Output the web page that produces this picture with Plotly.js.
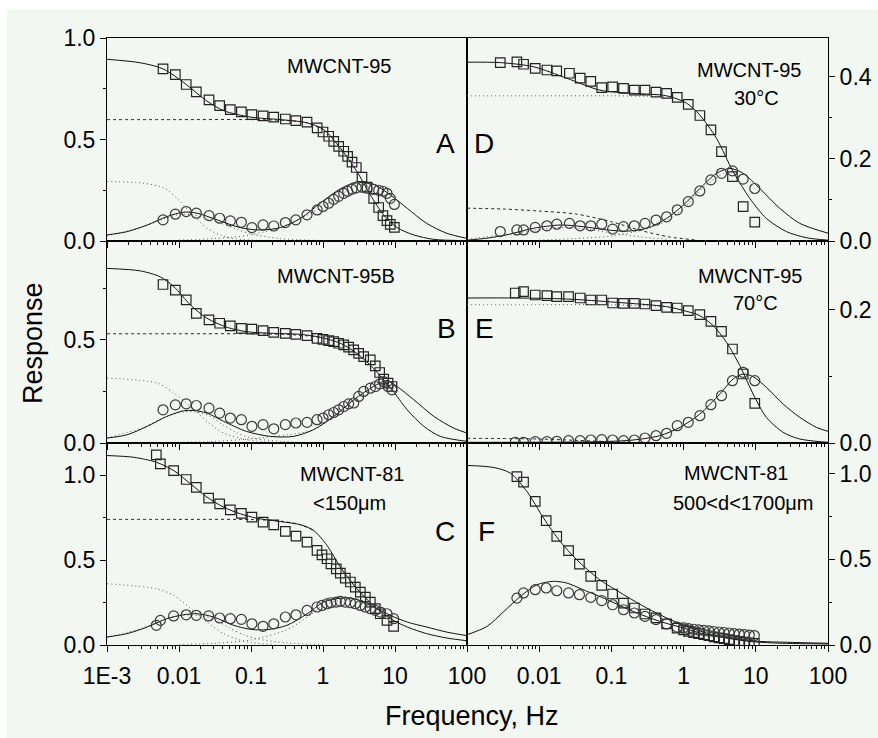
<!DOCTYPE html>
<html><head><meta charset="utf-8">
<script src="https://cdn.plot.ly/plotly-3.0.1.min.js"></script>
<style>html,body{margin:0;padding:0;background:#fff}#chart{width:878px;height:738px}</style>
</head><body><div id="chart"></div>
<script>
// ---------------- DATA (frequency in Hz) ----------------
// Panel A  MWCNT-95
const fA = [0.006,0.0089,0.0126,0.0174,0.0261,0.0367,0.0516,0.0735,0.103,0.147,0.207,0.30,0.42,0.60,0.83,1.0,1.2,1.41,1.65,1.94,2.2,2.53,2.9,3.48,4.08,5.06,5.93,6.8,7.74,8.6,9.8];
const reA = [0.848,0.820,0.771,0.735,0.695,0.667,0.647,0.636,0.623,0.616,0.610,0.601,0.593,0.586,0.557,0.537,0.516,0.491,0.466,0.442,0.417,0.389,0.362,0.315,0.265,0.21,0.165,0.125,0.1,0.082,0.067];
const imA = [0.104,0.132,0.145,0.137,0.125,0.112,0.099,0.092,0.066,0.079,0.074,0.091,0.104,0.129,0.153,0.170,0.186,0.205,0.220,0.235,0.245,0.255,0.262,0.265,0.26,0.255,0.25,0.245,0.235,0.21,0.18];
const fitReA_f = [0.001,0.0029,0.006,0.0126,0.0245,0.0417,0.1,0.257,0.603,1.02,1.74,2.95,4.54,6.97,10.7,18.2,34.7,100];
const fitReA = [0.895,0.878,0.848,0.771,0.689,0.642,0.610,0.598,0.582,0.549,0.458,0.343,0.227,0.128,0.066,0.03,0.008,0.002];
const fitImA_f = [0.001,0.0019,0.00363,0.00676,0.0115,0.0178,0.0339,0.0708,0.135,0.257,0.49,0.912,1.74,3.13,5.01,8.61,14.8,27.5,52.5,100];
const fitImA = [0.03,0.046,0.079,0.12,0.142,0.137,0.104,0.066,0.054,0.066,0.112,0.186,0.257,0.293,0.28,0.227,0.161,0.087,0.038,0.013];
const hfReA_f = [0.001,0.01,0.1,0.3,0.603,1.02];
const hfReA = [0.598,0.598,0.598,0.594,0.582,0.549];
const lfReA_f = [0.001,0.00316,0.0063,0.01,0.0158,0.0251,0.0398,0.0631,0.158];
const lfReA = [0.293,0.285,0.26,0.2,0.125,0.06,0.025,0.01,0.002];
const hfImA_f = [0.01,0.0316,0.1,0.316,1,2,3.16];
const hfImA = [0.005,0.012,0.03,0.08,0.17,0.24,0.285];
const lfImA_f = [0.001,0.00316,0.0063,0.01,0.0158,0.0251,0.0398,0.0631,0.1,0.251,1];
const lfImA = [0.025,0.07,0.11,0.13,0.128,0.11,0.085,0.058,0.035,0.012,0.002];

// Panel B  MWCNT-95B
const fB = [0.006,0.0089,0.0126,0.0174,0.0261,0.0367,0.0516,0.0735,0.103,0.147,0.207,0.30,0.42,0.60,0.826,1.0,1.2,1.41,1.65,1.94,2.27,2.67,3.13,3.67,4.54,5.33,6.12,6.97,8.0,9.08];
const reB = [0.769,0.742,0.694,0.629,0.597,0.581,0.568,0.556,0.552,0.545,0.537,0.532,0.527,0.521,0.508,0.503,0.497,0.492,0.484,0.476,0.465,0.452,0.435,0.419,0.403,0.374,0.342,0.31,0.29,0.274];
const imB = [0.161,0.185,0.19,0.182,0.169,0.145,0.121,0.113,0.081,0.089,0.069,0.089,0.097,0.1,0.113,0.121,0.137,0.148,0.161,0.177,0.19,0.194,0.226,0.25,0.266,0.274,0.287,0.298,0.274,0.258];
const fitReB_f = [0.001,0.0029,0.0055,0.0085,0.0145,0.0245,0.0468,0.0871,0.204,0.49,0.912,1.74,2.95,5.01,6.92,9.12,14.8,25.1,42.7,100];
const fitReB = [0.847,0.835,0.806,0.758,0.669,0.605,0.561,0.54,0.532,0.527,0.513,0.484,0.435,0.363,0.306,0.258,0.161,0.081,0.032,0.008];
const fitImB_f = [0.001,0.0019,0.00363,0.00676,0.0115,0.0158,0.0245,0.0417,0.0871,0.186,0.389,0.741,1.41,2.69,5.01,7.76,10.7,18.2,34.7,64.6,100];
const fitImB = [0.024,0.04,0.081,0.129,0.156,0.158,0.145,0.105,0.056,0.032,0.032,0.065,0.129,0.21,0.274,0.303,0.274,0.21,0.129,0.073,0.048];
const hfReB_f = [0.001,0.01,0.1,0.3,0.6,0.912];
const hfReB = [0.53,0.53,0.53,0.527,0.52,0.513];
const lfReB_f = [0.001,0.005,0.0085,0.0145,0.0245,0.0417,0.0871,0.204];
const lfReB = [0.315,0.29,0.242,0.177,0.105,0.048,0.016,0.003];
const hfImB_f = [0.01,0.0316,0.1,0.316,0.741,1.41];
const hfImB = [0.003,0.008,0.02,0.04,0.063,0.128];
const lfImB_f = [0.001,0.00316,0.0063,0.0112,0.0158,0.0251,0.0398,0.0631,0.1,0.251,0.631];
const lfImB = [0.024,0.075,0.125,0.15,0.152,0.135,0.09,0.05,0.025,0.008,0.002];

// Panel C  MWCNT-81 <150um
const fC = [0.00484,0.00551,0.00843,0.0126,0.0174,0.0258,0.0367,0.0516,0.0735,0.103,0.147,0.207,0.3,0.422,0.6,0.826,0.968,1.14,1.29,1.53,1.74,2.04,2.4,2.81,3.3,3.87,4.54,5.33,6.25,7.74,9.57];
const reC = [1.12,1.067,1.027,0.975,0.929,0.865,0.831,0.796,0.776,0.753,0.724,0.708,0.669,0.641,0.606,0.557,0.531,0.508,0.478,0.449,0.424,0.394,0.371,0.341,0.312,0.282,0.253,0.214,0.184,0.145,0.11];
const imC = [0.116,0.145,0.171,0.178,0.175,0.171,0.159,0.155,0.151,0.125,0.11,0.125,0.165,0.178,0.204,0.224,0.233,0.243,0.249,0.253,0.257,0.253,0.249,0.243,0.233,0.224,0.214,0.204,0.194,0.184,0.155];
const fitReC_f = [0.001,0.00234,0.0049,0.0085,0.0145,0.0245,0.0417,0.0708,0.12,0.257,0.49,0.741,1.14,1.74,2.95,5.01,8.61,14.8,27.5,52.5,100];
const fitReC = [1.116,1.106,1.076,1.027,0.949,0.871,0.812,0.773,0.747,0.727,0.708,0.675,0.586,0.459,0.331,0.233,0.155,0.106,0.067,0.041,0.025];
const fitImC_f = [0.001,0.0019,0.00363,0.00676,0.0115,0.0178,0.0302,0.0575,0.1,0.166,0.316,0.603,1.02,1.74,2.69,4.57,8.61,14.8,27.5,52.5,100];
const fitImC = [0.047,0.067,0.106,0.155,0.178,0.184,0.165,0.116,0.092,0.09,0.116,0.184,0.253,0.276,0.273,0.233,0.175,0.135,0.106,0.076,0.055];
const hfReC_f = [0.001,0.01,0.1,0.257,0.49,0.741];
const hfReC = [0.74,0.74,0.739,0.73,0.708,0.675];
const lfReC_f = [0.001,0.0049,0.0085,0.0145,0.0245,0.0417,0.0871,0.204];
const lfReC = [0.361,0.331,0.292,0.214,0.135,0.067,0.018,0.004];
const hfImC_f = [0.01,0.0316,0.1,0.316,0.631,1.02,1.74];
const hfImC = [0.003,0.01,0.03,0.09,0.17,0.235,0.265];
const lfImC_f = [0.001,0.00316,0.0063,0.0112,0.0178,0.0316,0.05,0.0794,0.126,0.316,1];
const lfImC = [0.045,0.1,0.15,0.175,0.175,0.15,0.1,0.06,0.035,0.012,0.003];

// Panel D  MWCNT-95 30°C
const fD = [0.00289,0.00491,0.00607,0.00881,0.0128,0.0175,0.0262,0.0369,0.0518,0.0735,0.104,0.147,0.208,0.292,0.415,0.582,0.817,1.16,1.68,2.39,3.35,4.75,6.68,9.68];
const reD = [0.435,0.437,0.431,0.421,0.417,0.415,0.409,0.397,0.389,0.374,0.376,0.372,0.368,0.368,0.363,0.360,0.350,0.333,0.306,0.271,0.218,0.157,0.084,0.046];
const imD = [0.023,0.027,0.027,0.033,0.037,0.041,0.043,0.037,0.037,0.041,0.029,0.035,0.037,0.043,0.051,0.059,0.076,0.096,0.122,0.149,0.165,0.171,0.151,0.128];
const fitReD_f = [0.001,0.00289,0.0083,0.024,0.069,0.2,0.582,1.1,1.68,2.86,4.86,8.26,14.0,26.5,50.1,100];
const fitReD = [0.436,0.435,0.425,0.397,0.368,0.36,0.354,0.336,0.307,0.25,0.169,0.104,0.055,0.023,0.008,0.002];
const fitImD_f = [0.001,0.0019,0.00355,0.0083,0.0195,0.0407,0.0871,0.162,0.309,0.582,1.0,1.68,2.86,4.37,6.68,11.35,21.4,40.7,100];
const fitImD = [0.002,0.007,0.015,0.031,0.039,0.035,0.027,0.024,0.031,0.055,0.088,0.128,0.165,0.177,0.165,0.128,0.08,0.043,0.019];
const hfReD_f = [0.001,0.01,0.1,0.3,0.582];
const hfReD = [0.354,0.354,0.354,0.353,0.352];
const lfReD_f = [0.001,0.00316,0.01,0.0316,0.1,0.251,0.631,1.58];
const lfReD = [0.08,0.078,0.073,0.066,0.047,0.026,0.01,0.002];
const hfImD_f = [0.01,0.0316,0.1,0.316,0.631,1.0,2.0,4.37];
const hfImD = [0.002,0.006,0.012,0.03,0.052,0.08,0.135,0.175];
const lfImD_f = [0.001,0.00316,0.01,0.02,0.04,0.1,0.251,0.631];
const lfImD = [0.005,0.015,0.028,0.033,0.03,0.02,0.01,0.004];

// Panel E  MWCNT-95 70°C
const fE = [0.00466,0.00607,0.00881,0.0128,0.0175,0.0255,0.0369,0.0518,0.0735,0.104,0.147,0.208,0.292,0.415,0.582,0.817,1.16,1.68,2.39,3.35,4.75,6.68,9.68];
const reE = [0.225,0.227,0.222,0.221,0.2195,0.2195,0.2175,0.2145,0.2145,0.21,0.2095,0.2095,0.2085,0.206,0.2035,0.2025,0.1985,0.1925,0.1825,0.1675,0.141,0.1035,0.0595];
const imE = [0.001,0.001,0.002,0.002,0.0025,0.0035,0.0035,0.0045,0.005,0.0045,0.0035,0.0045,0.0075,0.011,0.0145,0.026,0.031,0.041,0.0575,0.071,0.0935,0.106,0.0935];
const fitReE_f = [0.001,0.00466,0.024,0.117,0.582,1.1,1.68,2.57,3.93,6.01,9.18,14.0,23.9,40.6,100];
const fitReE = [0.2175,0.2175,0.216,0.211,0.2045,0.1975,0.191,0.176,0.151,0.116,0.0735,0.0385,0.016,0.006,0.001];
const fitImE_f = [0.001,0.0692,0.2,0.468,0.891,1.68,3.18,4.86,6.68,9.18,14.0,23.9,40.6,69.0,100];
const fitImE = [0.001,0.002,0.0045,0.011,0.0235,0.0435,0.0735,0.096,0.1035,0.0995,0.0835,0.0585,0.0385,0.0235,0.0175];
const hfReE_f = [0.001,0.01,0.1,0.3,0.582];
const hfReE = [0.2075,0.2075,0.2073,0.206,0.2045];
const lfReE_f = [0.001,0.01,0.0316,0.1,0.316];
const lfReE = [0.007,0.006,0.004,0.002,0.0];

// Panel F  MWCNT-81 500<d<1700um
const fF = [0.00491,0.00607,0.00881,0.0125,0.0175,0.0255,0.0361,0.0518,0.0735,0.104,0.147,0.208,0.292,0.415,0.582,0.813,1.0,1.17,1.38,1.62,1.91,2.24,2.63,3.09,3.63,4.27,5.01,5.89,6.92,8.13,9.55];
const reF = [0.984,0.951,0.839,0.726,0.634,0.551,0.473,0.401,0.348,0.298,0.245,0.216,0.181,0.158,0.123,0.099,0.088,0.08,0.072,0.066,0.06,0.054,0.048,0.042,0.037,0.031,0.026,0.021,0.017,0.013,0.01];
const imF = [0.274,0.304,0.323,0.333,0.317,0.304,0.294,0.278,0.259,0.235,0.206,0.187,0.167,0.148,0.123,0.105,0.1,0.096,0.092,0.088,0.085,0.082,0.079,0.076,0.073,0.07,0.067,0.064,0.061,0.058,0.055];
const fitReF_f = [0.001,0.00234,0.00398,0.00676,0.0115,0.0195,0.0331,0.0692,0.148,0.309,0.582,1.1,2.09,3.93,8.26,17.4,40.7,100];
const fitReF = [1.049,1.037,1.004,0.897,0.741,0.605,0.498,0.381,0.294,0.216,0.158,0.109,0.07,0.041,0.021,0.012,0.008,0.006];
const fitImF_f = [0.001,0.0019,0.00324,0.0055,0.00933,0.0158,0.024,0.0407,0.0871,0.2,0.468,1.0,2.09,4.86,11.35,26.3,100];
const fitImF = [0.06,0.109,0.196,0.284,0.352,0.372,0.362,0.323,0.265,0.196,0.138,0.099,0.06,0.037,0.021,0.016,0.01];

// Tick labels
const xTickVals = [0.001,0.01,0.1,1,10,100];
const xTickTextC = ['1E-3','0.01','0.1','1','10','100'];
const xTickTextF = ['','0.01','0.1','1','10','100'];

// ---------------- LAYOUT GEOMETRY ----------------
const W = 878, H = 738;
const FONT = 'Liberation Sans, Arial, Helvetica, sans-serif';
const colL = [107/W, 467/W], colR = [467/W, 828/W];
const rowPx = [[38,241],[241,443],[443,645]];
const rowDom = rowPx.map(r => [1 - r[1]/H, 1 - r[0]/H]);
const px = v => v / W, py = v => 1 - v / H;

const minorX = [];
for (let d = -3; d < 2; d++) for (let k = 2; k <= 9; k++) minorX.push(k * Math.pow(10, d));

const panels = [
  {id:'', col:colL, row:0, side:'left', yr:[0,1.0], ymaj:[0,0.5,1.0], ymin:[0.25,0.75], xt:null,
   re:[fA,reA], im:[fA,imA], fitRe:[fitReA_f,fitReA], fitIm:[fitImA_f,fitImA],
   dash:[[hfReA_f,hfReA]], dot:[[lfReA_f,lfReA],[hfImA_f,hfImA],[lfImA_f,lfImA]]},
  {id:'2', col:colR, row:0, side:'right', yr:[0,0.495], ymaj:[0,0.2,0.4], ymin:[0.1,0.3], xt:null,
   re:[fD,reD], im:[fD,imD], fitRe:[fitReD_f,fitReD], fitIm:[fitImD_f,fitImD],
   dash:[[lfReD_f,lfReD]], dot:[[hfReD_f,hfReD],[hfImD_f,hfImD],[lfImD_f,lfImD]]},
  {id:'3', col:colL, row:1, side:'left', yr:[0,0.98], ymaj:[0,0.5], ymin:[0.25,0.75], xt:null,
   re:[fB,reB], im:[fB,imB], fitRe:[fitReB_f,fitReB], fitIm:[fitImB_f,fitImB],
   dash:[[hfReB_f,hfReB]], dot:[[lfReB_f,lfReB],[hfImB_f,hfImB],[lfImB_f,lfImB]]},
  {id:'4', col:colR, row:1, side:'right', yr:[0,0.303], ymaj:[0,0.2], ymin:[0.1], xt:null,
   re:[fE,reE], im:[fE,imE], fitRe:[fitReE_f,fitReE], fitIm:[fitImE_f,fitImE],
   dash:[[lfReE_f,lfReE]], dot:[[hfReE_f,hfReE]]},
  {id:'5', col:colL, row:2, side:'left', yr:[0,1.19], ymaj:[0,0.5,1.0], ymin:[0.25,0.75], xt:xTickTextC,
   re:[fC,reC], im:[fC,imC], fitRe:[fitReC_f,fitReC], fitIm:[fitImC_f,fitImC],
   dash:[[hfReC_f,hfReC]], dot:[[lfReC_f,lfReC],[hfImC_f,hfImC],[lfImC_f,lfImC]]},
  {id:'6', col:colR, row:2, side:'right', yr:[0,1.18], ymaj:[0,0.5,1.0], ymin:[0.25,0.75], xt:xTickTextF,
   re:[fF,reF], im:[fF,imF], fitRe:[fitReF_f,fitReF], fitIm:[fitImF_f,fitImF],
   dash:[], dot:[]}
];

const traces = [];
const layout = {
  width: W, height: H, margin:{l:0,r:0,t:0,b:0},
  paper_bgcolor:'#ffffff', plot_bgcolor:'rgba(0,0,0,0)',
  showlegend:false, font:{family:FONT, color:'#000'},
  shapes:[{type:'rect', xref:'paper', yref:'paper', x0:px(7), x1:1, y0:0, y1:py(10),
           fillcolor:'#f3f7f2', line:{width:0}, layer:'below'}],
  annotations:[]
};

panels.forEach(p => {
  const xa = 'x' + p.id, ya = 'y' + p.id;
  const lineT = (d, style) => ({x:d[0], y:d[1], xaxis:xa, yaxis:ya, type:'scatter', mode:'lines',
     line:Object.assign({shape:'spline', smoothing:0.8}, style), hoverinfo:'skip'});
  p.dot.forEach(d => traces.push(lineT(d, {color:'#555', width:1, dash:'1px,3px'})));
  p.dash.forEach(d => traces.push(lineT(d, {color:'#222', width:1, dash:'3px,3px'})));
  traces.push(lineT(p.fitRe, {color:'#111', width:1}));
  traces.push(lineT(p.fitIm, {color:'#111', width:1}));
  traces.push({x:p.re[0], y:p.re[1], xaxis:xa, yaxis:ya, type:'scatter', mode:'markers',
     marker:{symbol:'square-open', size:9.5, color:'#222', line:{width:1.2, color:'#222'}}});
  traces.push({x:p.im[0], y:p.im[1], xaxis:xa, yaxis:ya, type:'scatter', mode:'markers',
     marker:{symbol:'circle-open', size:10, color:'#3a3a3a', line:{width:1.2, color:'#3a3a3a'}}});

  layout['xaxis' + p.id] = {
    domain:p.col, anchor:ya, type:'log', range:[-3,2],
    showline:true, mirror:true, linecolor:'#000', linewidth:1, showgrid:false, zeroline:false,
    ticks:'outside', ticklen:6, tickwidth:1, tickcolor:'#000',
    tickmode:'array', tickvals:xTickVals, ticktext:p.xt || xTickTextC,
    showticklabels: !!p.xt, ticklabelstandoff:4,
    tickfont:{family:FONT, size:23, color:'#000'},
    minor:{ticks:'outside', ticklen:3, tickwidth:1, tickcolor:'#000', tickmode:'array', tickvals:minorX}
  };
  layout['yaxis' + p.id] = {
    domain:rowDom[p.row], anchor:xa, side:p.side, range:p.yr,
    showline:true, mirror:true, linecolor:'#000', linewidth:1, showgrid:false, zeroline:false,
    ticks:'outside', ticklen:6, tickwidth:1, tickcolor:'#000',
    tickmode:'array', tickvals:p.ymaj, tickformat:'.1f',
    tickfont:{family:FONT, size:23, color:'#000'},
    minor:{ticks:'outside', ticklen:3, tickwidth:1, tickcolor:'#000', tickmode:'array', tickvals:p.ymin}
  };
});

const ann = (text, x, y, size, extra) => layout.annotations.push(Object.assign({
  text, x:px(x), y:py(y), xref:'paper', yref:'paper', showarrow:false,
  xanchor:'center', yanchor:'middle', font:{family:FONT, size, color:'#000'}}, extra || {}));

ann('MWCNT-95', 339, 66, 20);
ann('MWCNT-95B', 336, 276, 20);
ann('MWCNT-81', 352, 474, 20);
ann('&lt;150μm', 349, 503, 20);
ann('MWCNT-95', 749, 70, 20);
ann('30°C', 756, 98, 20);
ann('MWCNT-95', 750, 276, 20);
ann('70°C', 755, 303, 20);
ann('MWCNT-81', 736, 473, 20);
ann('500&lt;d&lt;1700μm', 743, 503, 20);
ann('A', 445, 143, 28);
ann('B', 446, 328, 28);
ann('C', 445, 531, 28);
ann('D', 484, 144, 28);
ann('E', 484, 329, 28);
ann('F', 486, 531, 28);
ann('Response', 33, 343, 27, {textangle:-90});
ann('Frequency, Hz', 472, 716, 27);

Plotly.newPlot('chart', traces, layout, {staticPlot:true, displayModeBar:false});
</script></body></html>
